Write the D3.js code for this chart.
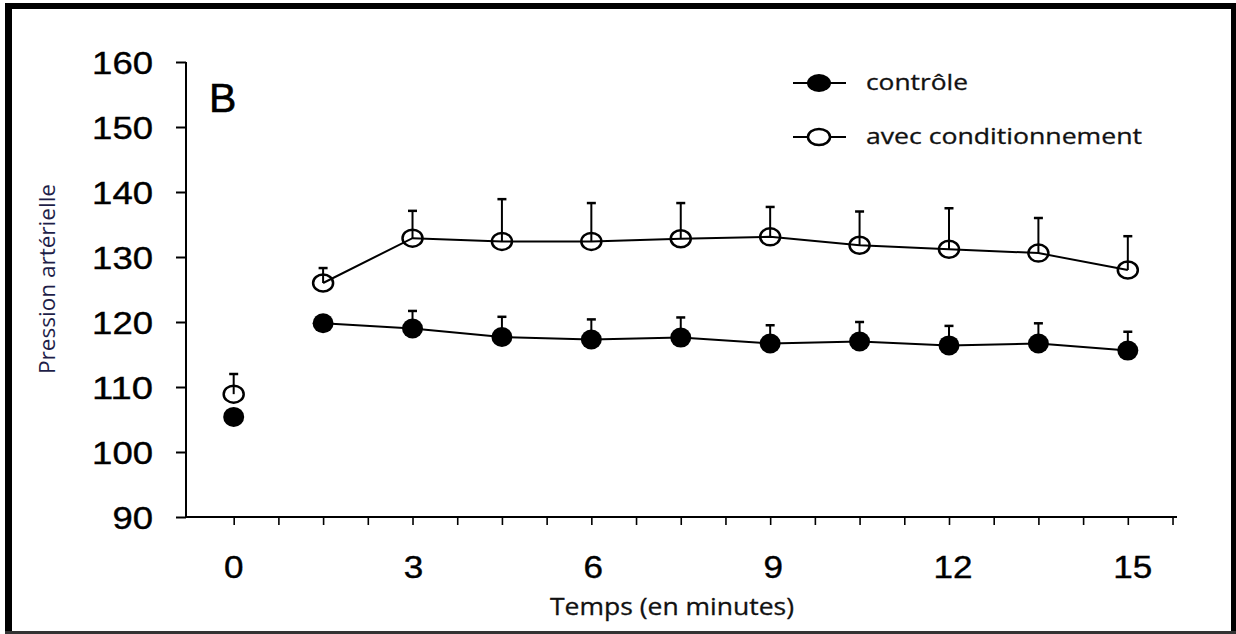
<!DOCTYPE html>
<html><head><meta charset="utf-8">
<script src="https://cdn.jsdelivr.net/npm/d3@7"></script>
<style>body{margin:0;background:#fff}svg{display:block}</style>
</head><body>
<svg id="c" width="1236" height="634"></svg>
<script>
const times = [0, 1.5, 3, 4.5, 6, 7.5, 9, 10.5, 12, 13.5, 15];
const controle = [105.4, 119.8, 119.0, 117.7, 117.3, 117.6, 116.7, 117.0, 116.4, 116.7, 115.6];
const controleErr = [105.6, 119.8, 121.7, 120.8, 120.4, 120.7, 119.5, 120.0, 119.4, 119.8, 118.5];
const conditionnement = [108.9, 126.0, 132.9, 132.4, 132.4, 132.8, 133.1, 131.8, 131.2, 130.6, 128.0];
const conditionnementErr = [112.0, 128.3, 137.1, 138.9, 138.3, 138.3, 137.7, 137.0, 137.5, 136.0, 133.2];
const yTicks = [90, 100, 110, 120, 130, 140, 150, 160];
const xLabels = [0, 3, 6, 9, 12, 15];
const seriesNames = ["contrôle", "avec conditionnement"];

const svg = d3.select("#c");
const x = d3.scaleLinear().domain([-0.8, 15.8]).range([186, 1175.5]);
const y = d3.scaleLinear().domain([90, 160]).range([517, 62]);

// frame
svg.append("rect").attr("x", 5).attr("y", 3).attr("width", 1231).attr("height", 6).attr("fill", "#000");
svg.append("rect").attr("x", 5).attr("y", 3).attr("width", 7).attr("height", 631).attr("fill", "#000");
svg.append("rect").attr("x", 1231).attr("y", 3).attr("width", 5).attr("height", 631).attr("fill", "#000");
svg.append("rect").attr("x", 5).attr("y", 631).attr("width", 1231).attr("height", 3).attr("fill", "#333");

// y axis
const yAxis = d3.axisLeft(y).tickValues(yTicks).tickSize(10).tickFormat(d3.format("d"));
const ga = svg.append("g").attr("transform", "translate(186,0)").call(yAxis);
ga.select(".domain").attr("stroke", "#000").attr("stroke-width", 2).attr("d", "M0,62V518");
ga.selectAll(".tick line").attr("stroke", "#000").attr("stroke-width", 2);
ga.selectAll(".tick text").attr("font-family", "Liberation Sans, Arial, sans-serif").attr("font-size", 32)
  .attr("fill", "#000").attr("stroke", "#000").attr("stroke-width", 0.4).attr("x", -33).attr("dy", "0.36em")
  .attr("textLength", d => String(d).length * 20.3).attr("lengthAdjust", "spacingAndGlyphs");

// x axis
const xTickVals = d3.range(0, 15.76, 0.75);
const xAxis = d3.axisBottom(x).tickValues(xTickVals).tickSize(8).tickFormat("");
const gx = svg.append("g").attr("transform", "translate(0,517)").call(xAxis);
gx.select(".domain").attr("stroke", "#000").attr("stroke-width", 2).attr("d", "M185,0H1177");
gx.selectAll(".tick line").attr("stroke", "#000").attr("stroke-width", 1.6);
svg.append("g").selectAll("text").data(xLabels).join("text")
  .attr("x", d => x(d) + d / 15 * 5).attr("y", 578).attr("text-anchor", "middle")
  .attr("font-family", "Liberation Sans, Arial, sans-serif").attr("font-size", 31).attr("fill", "#000")
  .attr("stroke", "#000").attr("stroke-width", 0.4)
  .attr("textLength", d => String(d).length * 19.5).attr("lengthAdjust", "spacingAndGlyphs")
  .text(d => d);

// axis titles
svg.append("text").attr("x", 672).attr("y", 615).attr("text-anchor", "middle")
  .attr("font-family", "Open Sans, sans-serif").attr("font-size", 23).attr("fill", "#111")
  .attr("stroke", "#111").attr("stroke-width", 0.3)
  .attr("textLength", 244).attr("lengthAdjust", "spacingAndGlyphs").text("Temps (en minutes)");
svg.append("text").attr("transform", "translate(55,279) rotate(-90)").attr("text-anchor", "middle")
  .attr("font-family", "Open Sans, sans-serif").attr("font-size", 21).attr("fill", "#1e1e48")
  .attr("textLength", 190).attr("lengthAdjust", "spacingAndGlyphs").text("Pression artérielle");

// panel letter
svg.append("text").attr("x", 209).attr("y", 112).attr("font-family", "Liberation Sans, Arial, sans-serif")
  .attr("font-size", 41).attr("fill", "#000").attr("stroke", "#000").attr("stroke-width", 0.6).text("B");

const idx = d3.range(times.length);
const lineIdx = idx.filter(i => times[i] > 0);
const line = d3.line().x(i => x(times[i]));

// lines
svg.append("path").attr("fill", "none").attr("stroke", "#000").attr("stroke-width", 2)
  .attr("d", line.y(i => y(conditionnement[i]))(lineIdx));
svg.append("path").attr("fill", "none").attr("stroke", "#000").attr("stroke-width", 2)
  .attr("d", line.y(i => y(controle[i]))(lineIdx));

// error bars
function errBars(vals, errs) {
  const g = svg.append("g").attr("stroke", "#000");
  g.selectAll("line.v").data(idx).join("line")
    .attr("x1", i => x(times[i])).attr("x2", i => x(times[i]))
    .attr("y1", i => y(vals[i])).attr("y2", i => y(errs[i])).attr("stroke-width", 2);
  g.selectAll("line.c").data(idx).join("line")
    .attr("x1", i => x(times[i]) - 4.5).attr("x2", i => x(times[i]) + 4.5)
    .attr("y1", i => y(errs[i])).attr("y2", i => y(errs[i])).attr("stroke-width", 2.5);
}
errBars(conditionnement, conditionnementErr);
errBars(controle, controleErr);

// markers
svg.append("g").selectAll("ellipse").data(idx).join("ellipse")
  .attr("cx", i => x(times[i])).attr("cy", i => y(conditionnement[i]))
  .attr("rx", 10).attr("ry", 8.5).attr("fill", "none").attr("stroke", "#000").attr("stroke-width", 2.5);
svg.append("g").selectAll("ellipse").data(idx).join("ellipse")
  .attr("cx", i => x(times[i])).attr("cy", i => y(controle[i]))
  .attr("rx", 10.5).attr("ry", 10).attr("fill", "#000");

// legend
const leg = svg.append("g");
const legY = [83, 137];
leg.selectAll("line").data(legY).join("line")
  .attr("x1", 793).attr("x2", 846).attr("y1", d => d).attr("y2", d => d)
  .attr("stroke", "#000").attr("stroke-width", 2);
leg.append("ellipse").attr("cx", 819).attr("cy", legY[0]).attr("rx", 12).attr("ry", 9).attr("fill", "#000");
leg.append("ellipse").attr("cx", 819).attr("cy", legY[1]).attr("rx", 11).attr("ry", 8)
  .attr("fill", "#fff").attr("stroke", "#000").attr("stroke-width", 2.5);
leg.selectAll("text").data(seriesNames).join("text")
  .attr("x", 866).attr("y", (d, i) => legY[i] + 7)
  .attr("font-family", "Open Sans, sans-serif").attr("font-size", 21).attr("fill", "#111")
  .attr("stroke", "#111").attr("stroke-width", 0.3)
  .attr("textLength", (d, i) => [102, 276][i]).attr("lengthAdjust", "spacingAndGlyphs")
  .text(d => d);
</script>
</body></html>
